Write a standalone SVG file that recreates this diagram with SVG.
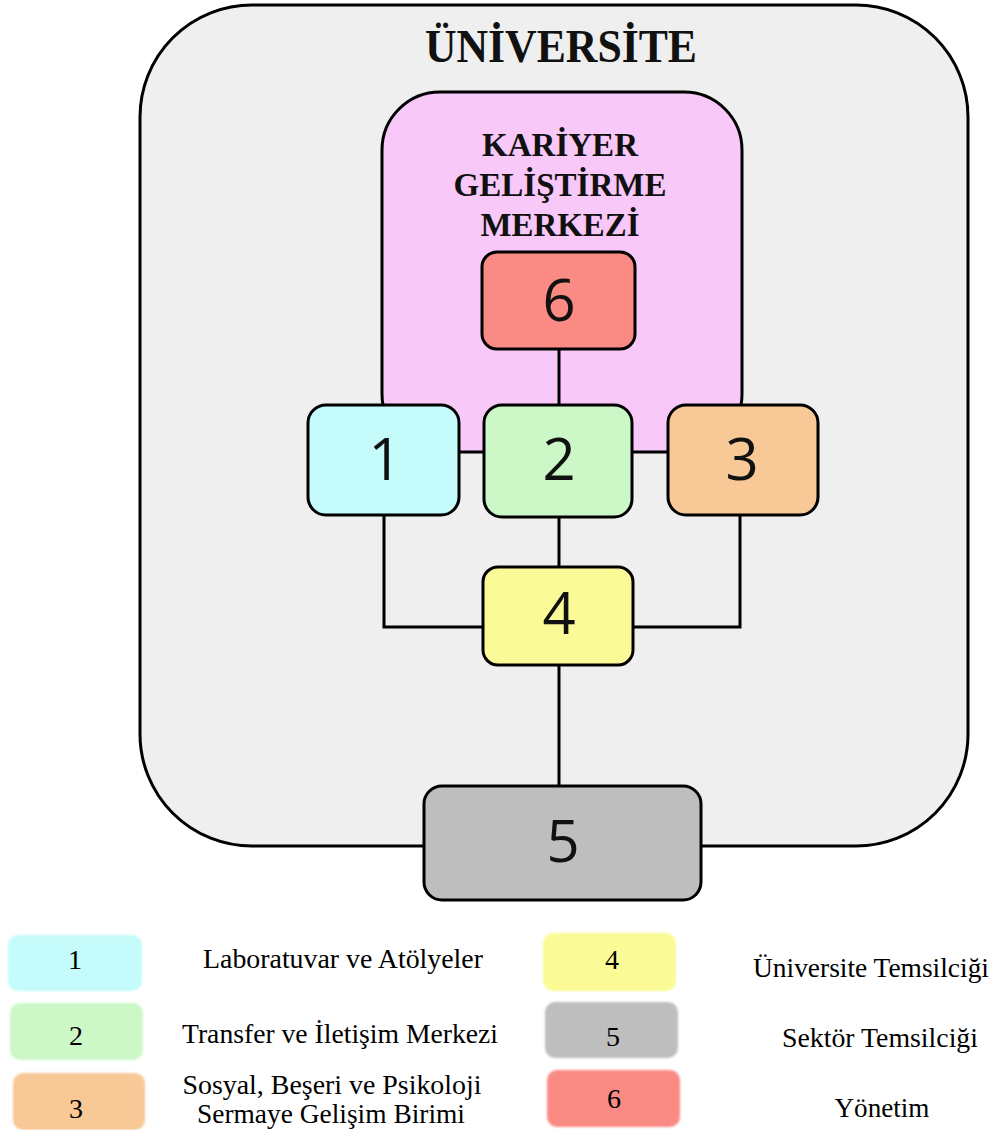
<svg xmlns="http://www.w3.org/2000/svg" width="999" height="1130" viewBox="0 0 999 1130">
<style>
.box{stroke:#000;stroke-width:3}
.conn{stroke:#000;stroke-width:3;fill:none}
.num{font-family:"Open Sans","Noto Sans",sans-serif;font-size:58px;text-anchor:middle;fill:#111}
.ttl{font-family:"Liberation Serif","Times New Roman",serif;font-weight:bold;text-anchor:middle;fill:#111}
.leg{font-family:"Liberation Serif","Times New Roman",serif;font-size:28px;text-anchor:middle;fill:#000}
.sw{filter:url(#blur)}
</style>
<defs>
<filter id="blur" x="-5%" y="-10%" width="110%" height="120%"><feGaussianBlur stdDeviation="1"/></filter>
</defs>
<rect width="999" height="1130" fill="#fff"/>
<g id="universite">
<rect class="box" x="140" y="5" width="828" height="841" rx="112" fill="#efefef"/>
<text class="ttl" x="561" y="62" font-size="46" textLength="272" lengthAdjust="spacingAndGlyphs">ÜNİVERSİTE</text>
</g>
<g id="kariyer">
<rect class="box" x="382" y="92" width="360" height="360" rx="58" fill="#f8c8f8"/>
<text class="ttl" x="560" y="156" font-size="33" textLength="156" lengthAdjust="spacingAndGlyphs">KARİYER</text>
<text class="ttl" x="560" y="196" font-size="33" textLength="213" lengthAdjust="spacingAndGlyphs">GELİŞTİRME</text>
<text class="ttl" x="560" y="236" font-size="33" textLength="159" lengthAdjust="spacingAndGlyphs">MERKEZİ</text>
</g>
<g id="connectors">
<line class="conn" x1="559" y1="350" x2="559" y2="405"/>
<line class="conn" x1="559" y1="517" x2="559" y2="567"/>
<line class="conn" x1="559" y1="665" x2="559" y2="786"/>
<polyline class="conn" points="384,515 384,627 483,627"/>
<polyline class="conn" points="740,515 740,627 633,627"/>
</g>
<g id="node6">
<rect class="box" x="482" y="252" width="153" height="97" rx="15" fill="#fa8a84"/>
<text class="num" x="559" y="321">6</text>
</g>
<g id="node1">
<rect class="box" x="308" y="405" width="151" height="110" rx="18" fill="#c5fbfb"/>
<text class="num" x="385" y="480">1</text>
</g>
<g id="node2">
<rect class="box" x="484" y="405" width="148" height="112" rx="18" fill="#ccf8c8"/>
<text class="num" x="559" y="480">2</text>
</g>
<g id="node3">
<rect class="box" x="668" y="405" width="150" height="110" rx="18" fill="#f8c896"/>
<text class="num" x="742" y="480">3</text>
</g>
<g id="node4">
<rect class="box" x="483" y="567" width="150" height="98" rx="15" fill="#fafa96"/>
<text class="num" x="559" y="634">4</text>
</g>
<g id="node5">
<rect class="box" x="424" y="786" width="277" height="114" rx="18" fill="#bebebe"/>
<text class="num" x="563" y="862">5</text>
</g>
<g id="legend">
<rect class="sw" x="8" y="935" width="134" height="56" rx="10" fill="#c5fbfb"/>
<text class="leg" x="75" y="969">1</text>
<text class="leg" x="343" y="968" textLength="280" lengthAdjust="spacingAndGlyphs">Laboratuvar ve Atölyeler</text>
<rect class="sw" x="10" y="1003" width="133" height="57" rx="10" fill="#ccf8c8"/>
<text class="leg" x="76" y="1045">2</text>
<text class="leg" x="340" y="1043" textLength="316" lengthAdjust="spacingAndGlyphs">Transfer ve İletişim Merkezi</text>
<rect class="sw" x="13" y="1073" width="132" height="57" rx="10" fill="#f8c896"/>
<text class="leg" x="76" y="1118">3</text>
<text class="leg" x="332" y="1094" font-size="25" textLength="299" lengthAdjust="spacingAndGlyphs">Sosyal, Beşeri ve Psikoloji</text>
<text class="leg" x="331" y="1123" font-size="25" textLength="268" lengthAdjust="spacingAndGlyphs">Sermaye Gelişim Birimi</text>
<rect class="sw" x="543" y="933" width="133" height="58" rx="10" fill="#fafa96"/>
<text class="leg" x="612" y="969">4</text>
<text class="leg" x="871" y="977" textLength="236" lengthAdjust="spacingAndGlyphs">Üniversite Temsilciği</text>
<rect class="sw" x="545" y="1002" width="133" height="56" rx="10" fill="#bebebe"/>
<text class="leg" x="613" y="1046">5</text>
<text class="leg" x="880" y="1047" textLength="196" lengthAdjust="spacingAndGlyphs">Sektör Temsilciği</text>
<rect class="sw" x="547" y="1070" width="133" height="57" rx="10" fill="#fa8a84"/>
<text class="leg" x="614" y="1108">6</text>
<text class="leg" x="882" y="1117" textLength="95" lengthAdjust="spacingAndGlyphs">Yönetim</text>
</g>
</svg>
